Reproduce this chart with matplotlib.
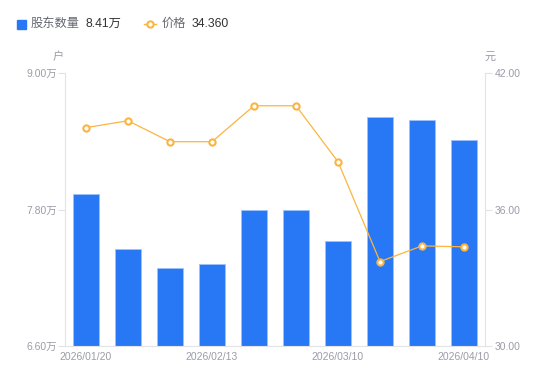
import matplotlib
matplotlib.use("Agg")
import matplotlib.pyplot as plt
from matplotlib.lines import Line2D
from matplotlib.patches import Rectangle

plt.rcParams['font.family'] = ['Liberation Sans', 'Noto Sans CJK SC', 'DejaVu Sans']

dates = ["2026/01/20", "2026/01/31", "2026/02/10", "2026/02/13", "2026/02/20",
         "2026/02/28", "2026/03/10", "2026/03/20", "2026/03/31", "2026/04/10"]
holders = [7.94, 7.45, 7.29, 7.32, 7.80, 7.80, 7.52, 8.61, 8.59, 8.41]  # 万户
price = [39.60, 39.90, 38.98, 38.98, 40.56, 40.56, 38.10, 33.71, 34.40, 34.36]
left_ticks = [6.60, 7.80, 9.00]
right_ticks = [30.00, 36.00, 42.00]
shown_ticks = [0, 3, 6, 9]

BLUE = "#2878F5"
ORANGE = "#FDB43F"
GRAY = "#9A9CA8"
AXIS = "#E3E3E6"

fig = plt.figure(figsize=(5.5, 3.81), dpi=100)
ax = fig.add_axes([65/550, 1-346/381, 420/550, 273/381])
ax2 = ax.twinx()

x = list(range(len(dates)))
ax.bar(x, holders, width=0.6, color=BLUE, edgecolor="#9EC2FB", linewidth=0.6, zorder=2)
ax.set_xlim(-0.5, len(dates)-0.5)
ax.set_ylim(left_ticks[0], left_ticks[-1])
ax.set_yticks(left_ticks)
ax.set_yticklabels([f"{v:.2f}万" for v in left_ticks])
ax.set_xticks(shown_ticks)
ax.set_xticklabels([dates[i] for i in shown_ticks])

ax2.plot(x, price, color=ORANGE, linewidth=0.9, marker="o", markersize=4.5,
         markerfacecolor="white", markeredgecolor=ORANGE, markeredgewidth=1.5, zorder=3)
ax2.set_ylim(right_ticks[0], right_ticks[-1])
ax2.set_yticks(right_ticks)
ax2.set_yticklabels([f"{v:.2f}" for v in right_ticks])

for a in (ax, ax2):
    for s in a.spines.values():
        s.set_visible(False)
ax.spines['left'].set_visible(True)
ax.spines['left'].set_color(AXIS)
ax.spines['bottom'].set_visible(True)
ax.spines['bottom'].set_color(AXIS)
ax2.spines['right'].set_visible(True)
ax2.spines['right'].set_color(AXIS)

ax.tick_params(axis='y', colors=AXIS, labelcolor=GRAY, labelsize=7.5, length=5, width=0.8, pad=1)
ax.tick_params(axis='x', length=0, labelcolor=GRAY, labelsize=7.5, pad=4)
ax2.tick_params(axis='y', colors=AXIS, labelcolor=GRAY, labelsize=7.5, length=5, width=0.8, pad=2)

fig.text(58/550, 1-57/381, "户", color=GRAY, fontsize=8, ha="center", va="center")
fig.text(490/550, 1-57/381, "元", color=GRAY, fontsize=8, ha="center", va="center")

# legend
ly = 1-24/381
fig.patches.append(Rectangle((17/550, 1-28.5/381), 8.5/550, 8.5/381, transform=fig.transFigure,
                             color=BLUE, figure=fig))
fig.text(31/550, ly, "股东数量", color="#666870", fontsize=8.8, va="center")
fig.text(85/550, ly, "8.41万", color="#333333", fontsize=8.8, va="center")
fig.lines.append(Line2D([144/550, 156/550], [ly, ly], transform=fig.transFigure, color=ORANGE,
                        linewidth=1, figure=fig))
fig.lines.append(Line2D([150/550], [ly], transform=fig.transFigure, color=ORANGE, linestyle="none",
                        marker="o", markersize=4.5, markerfacecolor="white", markeredgewidth=1.5,
                        figure=fig))
fig.text(162/550, ly, "价格", color="#666870", fontsize=8.8, va="center")
fig.text(192/550, ly, "34.360", color="#333333", fontsize=8.8, va="center")

fig.savefig("out.png", dpi=100)
